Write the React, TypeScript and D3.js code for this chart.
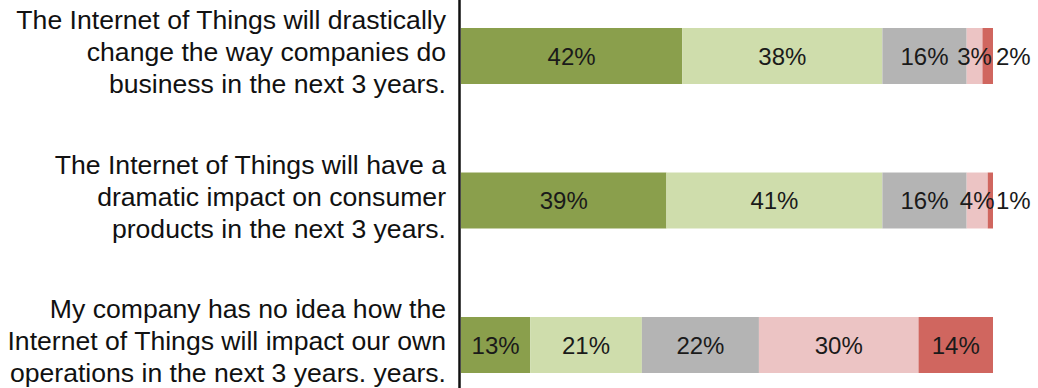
import React from "react";
import * as d3 from "d3";

const categories = ["drastic", "consumer", "noidea"];
const categoryLines: string[][] = [
  ["The Internet of Things will drastically", "change the way companies do", "business in the next 3 years."],
  ["The Internet of Things will have a", "dramatic impact on consumer", "products in the next 3 years."],
  ["My company has no idea how the", "Internet of Things will impact our own", "operations in the next 3 years. years."],
];
const seriesKeys = ["Strongly agree", "Agree", "Neutral", "Disagree", "Strongly disagree"];
const stronglyAgree = [42, 39, 13];
const agree = [38, 41, 21];
const neutral = [16, 16, 22];
const disagree = [3, 4, 30];
const stronglyDisagree = [2, 1, 14];
const colors = ["#8a9f4c", "#cfddac", "#b4b4b4", "#ecc4c4", "#d0665f"];

const W = 1038;
const H = 388;

export default function App() {
  const rows = categories.map((c, i) => ({
    cat: c,
    [seriesKeys[0]]: stronglyAgree[i],
    [seriesKeys[1]]: agree[i],
    [seriesKeys[2]]: neutral[i],
    [seriesKeys[3]]: disagree[i],
    [seriesKeys[4]]: stronglyDisagree[i],
  })) as any[];

  const stack = d3.stack<any>().keys(seriesKeys).offset(d3.stackOffsetExpand);
  const series = stack(rows);

  const x = d3.scaleLinear().domain([0, 1]).range([461, 993]);
  const y = d3
    .scaleBand<string>()
    .domain(categories)
    .range([-16.25, 417.25])
    .paddingInner(0.6125)
    .paddingOuter(0.30625);

  const bw = y.bandwidth();
  const fontFamily = "'Liberation Sans', Arial, Helvetica, sans-serif";
  const lineH = 32;

  return (
    <svg
      width={W}
      height={H}
      style={{ position: "absolute", left: 0, top: 0, background: "#fff" }}
      fontFamily={fontFamily}
    >
      {series.map((s, si) => (
        <g key={s.key} fill={colors[si]}>
          {s.map((d, i) => (
            <rect
              key={i}
              x={x(d[0])}
              y={y(categories[i])!}
              width={Math.max(0, x(d[1]) - x(d[0]))}
              height={bw}
            />
          ))}
        </g>
      ))}
      {series.map((s, si) =>
        s.map((d, i) => {
          const v = (d.data as any)[s.key] as number;
          const cy = y(categories[i])! + bw / 2;
          const outside = v < 3;
          const tx = outside ? x(d[1]) + 3 : (x(d[0]) + x(d[1])) / 2;
          return (
            <text
              key={`${si}-${i}`}
              x={tx}
              y={cy}
              dy="0.36em"
              textAnchor={outside ? "start" : "middle"}
              fontSize={24}
              fill="#1a1a1a"
            >
              {`${v}%`}
            </text>
          );
        })
      )}
      <line x1={459.5} x2={459.5} y1={0} y2={H} stroke="#111" strokeWidth={2.5} />
      {categories.map((c, i) => {
        const cy = y(c)! + bw / 2 + 5;
        const lines = categoryLines[i];
        return (
          <text key={c} textAnchor="end" fontSize={26.6} fill="#111">
            {lines.map((ln, li) => (
              <tspan key={li} x={446} y={cy + (li - (lines.length - 1) / 2) * lineH}>
                {ln}
              </tspan>
            ))}
          </text>
        );
      })}
    </svg>
  );
}
